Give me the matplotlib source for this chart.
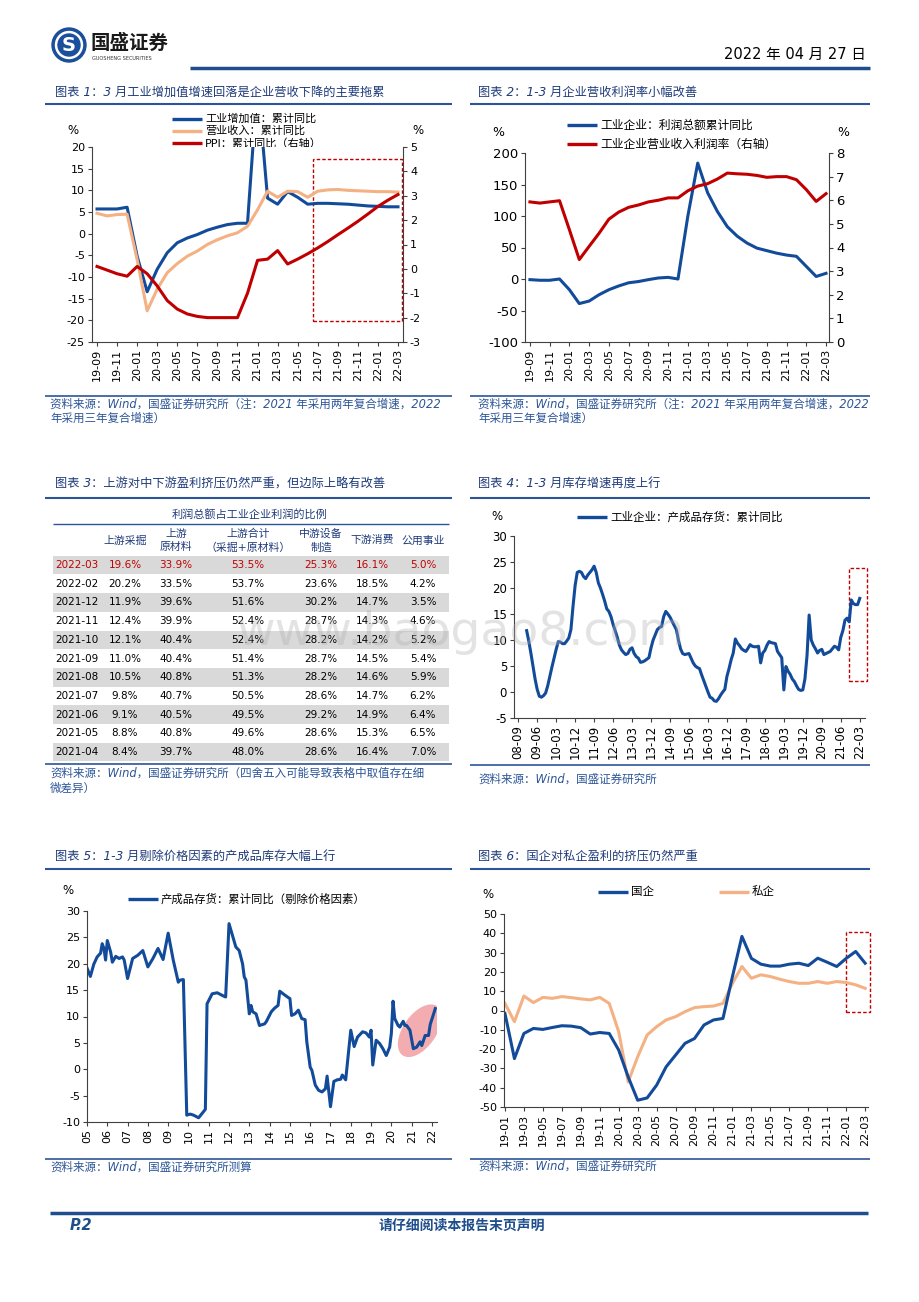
import numpy as np
import pandas as pd
import matplotlib
matplotlib.use('Agg')
import matplotlib.pyplot as plt
from matplotlib.patches import Rectangle, Ellipse, Circle
from matplotlib.transforms import ScaledTranslation

plt.rcParams['font.family'] = ['DejaVu Sans', 'Noto Sans CJK SC']
plt.rcParams['axes.unicode_minus'] = False

# ---------------- 数据 ----------------
# 图表1 / 图表2: 2019-09 ~ 2022-03 月度
m12 = pd.period_range('2019-09', '2022-03', freq='M')
va_yoy = [5.7, 5.7, 5.7, 6.1,
          -5.2, -13.4, -8.2, -4.4, -2.1, -1.0, -0.2, 0.8, 1.5, 2.1, 2.4, 2.4,
          35.0, 8.2, 6.8, 9.7, 8.4, 6.8, 7.0, 7.0, 6.9, 6.8, 6.6, 6.4,
          6.3, 6.2, 6.2]
rev_yoy = [4.7, 4.1, 4.4, 4.5,
           -6.0, -17.8, -12.8, -9.0, -6.9, -5.2, -4.0, -2.5, -1.4, -0.5, 0.2, 1.7,
           5.5, 9.8, 8.4, 9.8, 9.7, 8.4, 9.8, 10.1, 10.2, 10.0, 9.9, 9.8,
           9.7, 9.7, 9.6]
ppi_yoy = [0.1, -0.05, -0.2, -0.3,
           0.1, -0.2, -0.7, -1.3, -1.65, -1.85, -1.95, -2.0, -2.0, -2.0, -2.0, -1.0,
           0.35, 0.4, 0.75, 0.2, 0.4, 0.62, 0.86, 1.12, 1.4, 1.67, 1.95, 2.25,
           2.56, 2.82, 3.05]
profit_yoy = [-1, -2, -2, 0,
              -17, -39, -35, -25, -17, -11, -6, -4, -1, 1.6, 2.6, 0,
              100, 184, 137, 107, 83, 68, 57, 49, 45, 41, 38, 36,
              20, 4, 9]
margin = [5.93, 5.88, 5.93, 5.98,
          4.75, 3.49, 4.05, 4.6, 5.2, 5.5, 5.7, 5.8, 5.93, 6.0, 6.1, 6.1,
          6.4, 6.6, 6.7, 6.9, 7.15, 7.12, 7.1, 7.05, 6.97, 7.0, 7.0, 6.87,
          6.45, 5.95, 6.28]

# 图表3 表格
tbl_dates = ['2022-03', '2022-02', '2021-12', '2021-11', '2021-10', '2021-09',
             '2021-08', '2021-07', '2021-06', '2021-05', '2021-04']
up_mining = [19.6, 20.2, 11.9, 12.4, 12.1, 11.0, 10.5, 9.8, 9.1, 8.8, 8.4]
up_raw = [33.9, 33.5, 39.6, 39.9, 40.4, 40.4, 40.8, 40.7, 40.5, 40.8, 39.7]
up_total = [53.5, 53.7, 51.6, 52.4, 52.4, 51.4, 51.3, 50.5, 49.5, 49.6, 48.0]
mid_equip = [25.3, 23.6, 30.2, 28.7, 28.2, 28.7, 28.2, 28.6, 29.2, 28.6, 28.6]
down_cons = [16.1, 18.5, 14.7, 14.3, 14.2, 14.5, 14.6, 14.7, 14.9, 15.3, 16.4]
utilities = [5.0, 4.2, 3.5, 4.6, 5.2, 5.4, 5.9, 6.2, 6.4, 6.5, 7.0]
col_heads = ['上游采掘', '上游\n原材料', '上游合计\n（采掘+原材料）', '中游设备\n制造', '下游消费', '公用事业']

# 图表4: 产成品存货累计同比, 2009-01 起
inv_yoy = [11.8, 9.8, 7.5, 5.0, 2.5, 0.5, -0.8, -1.0, -0.7, -0.2, 1.2, 3.0,
           4.8, 6.5, 8.2, 9.7, 9.6, 9.3, 9.3, 9.8, 10.4, 12.0, 16.5, 20.5,
           23.0, 23.2, 23.0, 22.2, 21.8, 22.5, 23.0, 23.5, 24.2, 23.0, 21.0, 20.0,
           18.8, 17.5, 16.0, 15.5, 14.5, 13.0, 11.8, 10.5, 9.0, 8.1, 7.6, 7.2,
           7.4, 8.2, 8.5, 7.4, 6.8, 6.5, 5.7, 5.8, 6.0, 6.3, 6.6, 8.5,
           10.0, 11.0, 12.0, 12.4, 12.6, 14.5, 15.5, 15.0, 14.4, 13.6, 12.8, 12.0,
           10.0, 8.3, 7.4, 7.2, 7.3, 7.4, 6.5, 5.6, 5.0, 4.7, 4.5, 3.3,
           2.2, 1.1, 0.0, -1.0, -1.2, -1.7, -1.8, -1.3, -0.6, 0.0, 0.5, 3.0,
           4.5, 6.2, 7.5, 10.2, 9.4, 8.9, 8.3, 8.0, 7.8, 8.4, 9.1, 8.8,
           8.7, 8.7, 8.8, 5.6, 7.5, 8.0, 9.0, 9.7, 9.5, 9.4, 9.3, 7.8,
           7.2, 6.6, 0.4, 4.9, 4.0, 3.4, 2.5, 2.0, 1.2, 0.5, 0.3, 0.4,
           2.5, 7.0, 14.8, 10.0, 9.0, 8.3, 7.5, 8.0, 8.2, 7.2, 7.4, 7.6,
           7.8, 8.3, 8.8, 8.6, 8.1, 10.5, 11.8, 13.8, 14.2, 13.5, 17.7, 17.0,
           16.8, 16.8, 18.0]

# 图表5: 剔除价格因素的产成品存货
real_dates = ['2005-01', '2005-03', '2005-05', '2005-07', '2005-09', '2005-10', '2005-11', '2005-12',
              '2006-01', '2006-03', '2006-04', '2006-06', '2006-08', '2006-10', '2006-11',
              '2007-01', '2007-04', '2007-07', '2007-10', '2008-01', '2008-04', '2008-07', '2008-10',
              '2009-01', '2009-04', '2009-07', '2009-08', '2009-10', '2009-12',
              '2010-02', '2010-04', '2010-07', '2010-11', '2010-12',
              '2011-03', '2011-06', '2011-09', '2011-11',
              '2012-01', '2012-03', '2012-05', '2012-07', '2012-09', '2012-10', '2012-11',
              '2013-01', '2013-02', '2013-03', '2013-05', '2013-07', '2013-10', '2013-11',
              '2014-02', '2014-04', '2014-06', '2014-07', '2014-09', '2014-12',
              '2015-01', '2015-02', '2015-04', '2015-06', '2015-08', '2015-10', '2015-11',
              '2016-01', '2016-02', '2016-04', '2016-06', '2016-08', '2016-10', '2016-11',
              '2017-01', '2017-03', '2017-05', '2017-07', '2017-08', '2017-10',
              '2018-01', '2018-03', '2018-05', '2018-08', '2018-10', '2018-12',
              '2019-01', '2019-02', '2019-04', '2019-06', '2019-08', '2019-10', '2019-12',
              '2020-01', '2020-02', '2020-03', '2020-05', '2020-06', '2020-08', '2020-09', '2020-10', '2020-12',
              '2021-02', '2021-04', '2021-06', '2021-07', '2021-09', '2021-11', '2021-12', '2022-03']
real_vals = [19.2, 17.6, 19.9, 21.3, 22.0, 23.8, 22.9, 20.7,
             24.4, 22.2, 20.3, 21.4, 21.0, 21.3, 20.7,
             17.2, 21.0, 21.6, 22.5, 19.4, 21.0, 22.9, 20.8,
             25.8, 20.7, 16.5, 16.9, 17.0, -8.7,
             -8.5, -8.7, -9.2, -7.6, 12.4,
             14.3, 14.5, 14.0, 13.7,
             27.6, 25.4, 23.2, 22.5, 20.0, 17.5, 16.9,
             10.5, 12.1, 10.9, 10.5, 8.3, 8.6, 9.0,
             10.9, 11.6, 12.1, 14.8, 14.3, 13.6,
             13.4, 10.2, 10.5, 11.2, 9.6, 9.4, 5.2,
             0.4, -0.2, -3.0, -4.0, -4.3, -3.7, -1.3,
             -7.1, -2.3, -2.0, -1.9, -1.1, -2.0,
             7.4, 4.3, 6.1, 7.1, 6.9, 6.1,
             7.4, 0.8, 5.5, 4.9, 3.9, 2.6, 4.2,
             6.8, 12.9, 9.6, 8.3, 8.0, 9.1, 8.3, 8.3, 7.4,
             3.9, 4.2, 5.2, 4.5, 6.4, 6.4, 8.5, 11.5]

# 图表6: 2019-01 ~ 2022-03
m6 = pd.period_range('2019-01', '2022-03', freq='M')
soe = [-1.5, -24.9, -11.9, -9.3, -9.8, -8.8, -7.9, -8.1, -8.9, -12.2, -11.4, -11.9,
       -20.5, -34.4, -46.5, -45.3, -38.7, -29.2, -23.1, -17.0, -14.5, -7.5, -4.9, -4.1,
       17.6, 38.4, 27.0, 24.0, 23.0, 23.0, 24.0, 24.5, 23.3, 27.1, 25.0, 22.8,
       27.0, 30.6, 24.5]
private = [3.7, -5.8, 7.5, 4.1, 6.8, 6.3, 7.2, 6.7, 6.0, 5.5, 6.8, 3.7,
           -11.0, -37.0, -24.0, -12.7, -8.4, -4.9, -3.2, -0.6, 1.5, 2.0, 2.3, 3.7,
           14.1, 22.8, 16.7, 18.5, 17.6, 16.2, 15.0, 14.1, 14.1, 15.0, 14.1, 15.0,
           14.5, 13.3, 11.5]

# ---------------- 样式 ----------------
NAVY = '#1f3b7a'
SEP = '#2c5597'
BLUE = '#134b9b'
ORANGE = '#f4b183'
RED = '#c00000'
AXC = '#404040'
W, H = 920, 1302

fig = plt.figure(figsize=(W / 100, H / 100), dpi=100)

bg = fig.add_axes([0, 0, 1, 1])
bg.set_xlim(0, W)
bg.set_ylim(H, 0)
bg.axis('off')
bg.set_zorder(-1)


def px_axes(x0, y0, x1, y1):
    return fig.add_axes([x0 / W, 1 - y1 / H, (x1 - x0) / W, (y1 - y0) / H])


def style(ax, fs=8):
    for s in ['top', 'right']:
        ax.spines[s].set_visible(False)
    for s in ['left', 'bottom']:
        ax.spines[s].set_color(AXC)
        ax.spines[s].set_linewidth(0.8)
    ax.tick_params(direction='out', length=3, width=0.8, color=AXC, labelsize=fs, pad=2)


def style_right(axr, fs=8):
    for s in ['top', 'left', 'bottom']:
        axr.spines[s].set_visible(False)
    axr.spines['right'].set_color(AXC)
    axr.spines['right'].set_linewidth(0.8)
    axr.tick_params(direction='out', length=3, width=0.8, color=AXC, labelsize=fs, pad=2)


def legend_item(x0, y, color, label, fs=8):
    bg.plot([x0, x0 + 30], [y, y], color=color, lw=2.4, solid_capstyle='butt')
    bg.text(x0 + 33, y, label, va='center', ha='left', fontsize=fs)


def title(x, y, s):
    bg.text(x, y, s, fontsize=8.8, color=NAVY, style='italic', va='center', ha='left')


def source(x, y, s):
    bg.text(x, y, s, fontsize=8.3, color=SEP, style='italic', va='center', ha='left')


def hline(y, x0, x1, lw=1.5, color=SEP):
    bg.plot([x0, x1], [y, y], color=color, lw=lw, solid_capstyle='butt')


# ---------------- 页眉 ----------------
bg.add_patch(Circle((69, 45), 17, color='#1b4f9c'))
bg.add_patch(Circle((69, 45), 13.5, color='white'))
bg.add_patch(Circle((69, 45), 11, color='#1b4f9c'))
bg.text(69, 45.5, 'S', color='white', fontsize=14, fontweight='bold', ha='center', va='center')
bg.text(91, 43, '国盛证券', fontsize=14, fontweight='bold', color='#1a1a1a', va='center', ha='left',
        family=['Noto Sans CJK SC', 'DejaVu Sans'])
bg.text(92, 59, 'GUOSHENG SECURITIES', fontsize=3.6, color='#333333', va='center', ha='left')
bg.text(866, 54, '2022 年 04 月 27 日', fontsize=10.5, ha='right', va='center')
hline(68, 190, 870, lw=2.5, color='#1f4e8c')

# ---------------- 图表1 ----------------
title(55, 92, '图表 1：3 月工业增加值增速回落是企业营收下降的主要拖累')
hline(104, 45, 452)
x1 = np.arange(len(m12))
lab12 = [p.strftime('%y-%m') for p in m12]
ax1 = px_axes(92, 147, 403, 342)
ax1.plot(x1, va_yoy, color=BLUE, lw=2.2)
ax1.plot(x1, rev_yoy, color=ORANGE, lw=2.2)
ax1.set_xlim(-0.5, 30.5)
ax1.set_ylim(-25, 20)
ax1.set_yticks(range(-25, 21, 5))
ax1.set_xticks(x1[::2])
ax1.set_xticklabels(lab12[::2], rotation=90)
style(ax1)
ax1r = ax1.twinx()
ax1r.plot(x1, ppi_yoy, color=RED, lw=2.2)
ax1r.set_ylim(-3, 5)
ax1r.set_yticks(range(-3, 6))
style_right(ax1r)
ax1.add_patch(Rectangle((21.5, -20.2), 8.9, 37.4, fill=False, ec=RED, ls=(0, (2.5, 1.5)), lw=1))
legend_item(172, 119, BLUE, '工业增加值：累计同比')
legend_item(172, 131, ORANGE, '营业收入：累计同比')
legend_item(172, 143, RED, 'PPI：累计同比（右轴）')
bg.text(73, 131, '%', fontsize=8.5, ha='center', va='center')
bg.text(418, 131, '%', fontsize=8.5, ha='center', va='center')
hline(396, 45, 452, lw=1.2)
source(50, 404, '资料来源：Wind，国盛证券研究所（注：2021 年采用两年复合增速，2022')
source(50, 418, '年采用三年复合增速）')

# ---------------- 图表2 ----------------
title(478, 92, '图表 2：1-3 月企业营收利润率小幅改善')
hline(104, 470, 870)
ax2 = px_axes(525, 153, 829, 342)
ax2.plot(x1, profit_yoy, color=BLUE, lw=2.2)
ax2.set_xlim(-0.5, 30.3)
ax2.set_ylim(-100, 200)
ax2.set_yticks(range(-100, 201, 50))
ax2.set_xticks(x1[::2])
ax2.set_xticklabels(lab12[::2], rotation=90)
style(ax2, fs=9.5)
ax2.tick_params(axis='x', labelsize=8)
ax2r = ax2.twinx()
ax2r.plot(x1, margin, color=RED, lw=2.2)
ax2r.set_ylim(0, 8)
ax2r.set_yticks(range(0, 9))
style_right(ax2r, fs=9.5)
legend_item(567, 125, BLUE, '工业企业：利润总额累计同比', fs=8.5)
legend_item(567, 144, RED, '工业企业营业收入利润率（右轴）', fs=8.5)
bg.text(498, 132, '%', fontsize=9, ha='center', va='center')
bg.text(843, 132, '%', fontsize=9, ha='center', va='center')
hline(396, 470, 870, lw=1.2)
source(478, 404, '资料来源：Wind，国盛证券研究所（注：2021 年采用两年复合增速，2022')
source(478, 418, '年采用三年复合增速）')

# ---------------- 图表3 表格 ----------------
title(55, 484, '图表 3：上游对中下游盈利挤压仍然严重，但边际上略有改善')
hline(498, 45, 452)
bg.text(250, 514, '利润总额占工业企业利润的比例', fontsize=8, color=NAVY, ha='center', va='center')
hline(524, 53, 449, lw=1)
col_x = [125, 176, 248, 321, 372, 423]
for cx, head in zip(col_x, col_heads):
    bg.text(cx, 540.5, head, fontsize=7.8, color=NAVY, ha='center', va='center', linespacing=1.4)
cols = [up_mining, up_raw, up_total, mid_equip, down_cons, utilities]
for i, d in enumerate(tbl_dates):
    yc = 565 + 18.7 * i
    if i % 2 == 0:
        bg.add_patch(Rectangle((53, yc - 9.3), 396, 18.6, color='#d9d9d9', lw=0))
    c = RED if i == 0 else 'black'
    bg.text(55, yc, d, fontsize=7.5, color=c, ha='left', va='center')
    for cx, col in zip(col_x, cols):
        bg.text(cx, yc, f'{col[i]:.1f}%', fontsize=7.5, color=c, ha='center', va='center')
hline(764, 45, 452, lw=1.2)
source(50, 773, '资料来源：Wind，国盛证券研究所（四舍五入可能导致表格中取值存在细')
source(50, 788, '微差异）')

# ---------------- 图表4 ----------------
title(478, 484, '图表 4：1-3 月库存增速再度上行')
hline(498, 470, 870)
m4 = pd.period_range('2009-01', periods=len(inv_yoy), freq='M')
base4 = pd.Period('2008-09', freq='M')
x4 = np.array([(p - base4).n for p in m4])
ticks4 = pd.period_range('2008-09', '2022-03', freq='M')[::9]
ax4 = px_axes(514, 536, 865, 718)
ax4.plot(x4, inv_yoy, color=BLUE, lw=2.2)
ax4.set_xlim(-2, 164.5)
ax4.set_ylim(-5, 30)
ax4.set_yticks(range(-5, 31, 5))
ax4.set_xticks([(p - base4).n for p in ticks4])
ax4.set_xticklabels([p.strftime('%y-%m') for p in ticks4], rotation=90)
style(ax4, fs=8.5)
ax4.add_patch(Rectangle((156.9, 2.2), 8.6, 21.7, fill=False, ec=RED, ls=(0, (2.5, 1.5)), lw=1,
                        clip_on=False))
legend_item(577, 517, BLUE, '工业企业：产成品存货：累计同比', fs=8.3)
bg.text(497, 516, '%', fontsize=8.5, ha='center', va='center')
hline(765, 470, 870, lw=1.2)
source(478, 779, '资料来源：Wind，国盛证券研究所')

# ---------------- 图表5 ----------------
title(55, 856, '图表 5：1-3 月剔除价格因素的产成品库存大幅上行')
hline(869, 45, 452)
base5 = pd.Period('2005-01', freq='M')
x5 = np.array([(pd.Period(d, freq='M') - base5).n for d in real_dates])
ax5 = px_axes(87, 911, 437, 1122)
ax5.plot(x5, real_vals, color=BLUE, lw=2.2)
ax5.set_xlim(0, 207)
ax5.set_ylim(-10, 30)
ax5.set_yticks(range(-10, 31, 5))
years5 = list(range(2005, 2023))
ax5.set_xticks([(y - 2005) * 12 for y in years5])
ax5.set_xticklabels([f'{y % 100:02d}' for y in years5], rotation=90)
style(ax5, fs=8)
ell = Ellipse((0, 0), 0.60, 0.33, angle=55, facecolor='#ee8a90', alpha=0.7, lw=0,
              transform=fig.dpi_scale_trans + ScaledTranslation(196.8, 7.3, ax5.transData))
ax5.add_patch(ell)
legend_item(128, 899, BLUE, '产成品存货：累计同比（剔除价格因素）', fs=8.2)
bg.text(68, 890, '%', fontsize=8.5, ha='center', va='center')
hline(1159, 45, 452, lw=1.2)
source(50, 1167, '资料来源：Wind，国盛证券研究所测算')

# ---------------- 图表6 ----------------
title(478, 856, '图表 6：国企对私企盈利的挤压仍然严重')
hline(869, 470, 870)
x6 = np.arange(len(m6))
ax6 = px_axes(504, 914, 868, 1107)
ax6.plot(x6, private, color=ORANGE, lw=2.2)
ax6.plot(x6, soe, color=BLUE, lw=2.2)
ax6.set_xlim(-0.1, 38.3)
ax6.set_ylim(-50, 50)
ax6.set_yticks(range(-50, 51, 10))
ax6.set_xticks(x6[::2])
ax6.set_xticklabels([p.strftime('%y-%m') for p in m6][::2], rotation=90)
style(ax6, fs=8)
ax6.add_patch(Rectangle((36.0, -0.6), 2.5, 41.2, fill=False, ec=RED, ls=(0, (2.5, 1.5)), lw=1,
                        clip_on=False))
legend_item(598, 892, BLUE, '国企', fs=8.3)
legend_item(719, 892, ORANGE, '私企', fs=8.3)
bg.text(488, 895, '%', fontsize=8.5, ha='center', va='center')
hline(1159, 470, 870, lw=1.2)
source(478, 1166, '资料来源：Wind，国盛证券研究所')

# ---------------- 水印 & 页脚 ----------------
fig.text(460 / W, 1 - 632 / H, 'www.baogao8.com', fontsize=34, color='#b0b0b0', alpha=0.35,
         ha='center', va='center', zorder=10)
hline(1213, 50, 868, lw=2.5, color='#1f4e8c')
bg.text(70, 1226, 'P.2', fontsize=10.5, fontweight='bold', style='italic', color='#1f4e8c',
        ha='left', va='center')
bg.text(462, 1226, '请仔细阅读本报告末页声明', fontsize=10, fontweight='bold', style='italic',
        color='#1f4e8c', ha='center', va='center')

fig.savefig('out.png', dpi=100)
